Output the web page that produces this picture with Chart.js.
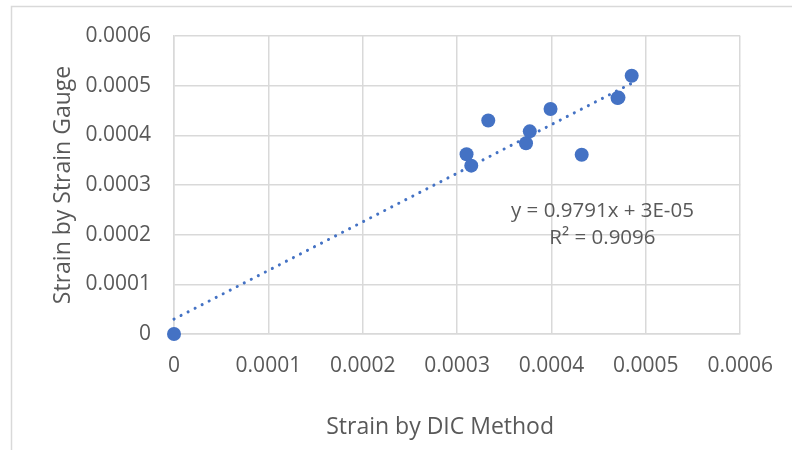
<!DOCTYPE html>
<html>
<head>
<meta charset="utf-8">
<script src="https://cdn.jsdelivr.net/npm/chart.js@4/dist/chart.umd.min.js"></script>
<style>
  html, body { margin: 0; padding: 0; background: #fff; }
  #wrap { width: 792px; height: 450px; }
</style>
</head>
<body>
<div id="wrap"><canvas id="strainChart" width="792" height="450"></canvas></div>
<script>
    'use strict'

    // strain pairs: DIC method (x) vs strain gauge (y)
    var dicStrain   = [0, 0.000310, 0.000315, 0.000333, 0.000373, 0.000377, 0.000399, 0.000432, 0.000470, 0.000471, 0.000485];
    var gaugeStrain = [0, 0.000362, 0.000339, 0.000430, 0.000384, 0.000408, 0.000453, 0.000361, 0.000475, 0.000476, 0.000520];

    // linear trendline
    var trendSlope = 0.9791;
    var trendIntercept = 0.00003;
    var trendLabel = ['y = 0.9791x + 3E-05', 'R\u00b2 = 0.9096'];

    var tickValues = [0, 0.0001, 0.0002, 0.0003, 0.0004, 0.0005, 0.0006];
    var xTitle = 'Strain by DIC Method';
    var yTitle = 'Strain by Strain Gauge';

    var blue = '#4472C4';
    var grey = '#595959';
    var gridGrey = '#D9D9D9';
    var fontFamily = '"Open Sans", "Liberation Sans", sans-serif';

    var points = dicStrain.map(function (x, i) { return { x: x, y: gaugeStrain[i] }; });
    var xMax = Math.max.apply(null, dicStrain);
    var trend = [
        { x: 0, y: trendIntercept },
        { x: xMax, y: trendSlope * xMax + trendIntercept }
    ];

    function fmt(v) {
        if (Math.abs(v) < 1e-12) return '0';
        return v.toFixed(4);
    }

    // outer chart frame
    var framePlugin = {
        id: 'frame',
        beforeDraw: function (chart) {
            var ctx = chart.ctx;
            ctx.save();
            ctx.strokeStyle = gridGrey;
            ctx.lineWidth = 1.5;
            ctx.strokeRect(11.5, 6.5, 1000, 1000);
            ctx.restore();
        }
    };

    // trendline equation + x axis title (centred on the whole chart body)
    var equationPlugin = {
        id: 'equation',
        afterDatasetsDraw: function (chart) {
            var ctx = chart.ctx;
            var xs = chart.scales.x, ys = chart.scales.y;
            var cx = xs.getPixelForValue(0.000454);
            var cy = ys.getPixelForValue(0.000248);
            ctx.save();
            ctx.fillStyle = grey;
            ctx.font = '20.5px ' + fontFamily;
            ctx.textAlign = 'center';
            ctx.textBaseline = 'middle';
            ctx.fillText(trendLabel[0], cx, cy);
            ctx.fillText(trendLabel[1], cx, cy + 27);

            ctx.font = '23px ' + fontFamily;
            ctx.fillText(xTitle, (xs.left + xs.right) / 2 - 17, xs.bottom - 23);
            ctx.restore();
        }
    };

    var ctx = document.getElementById('strainChart').getContext('2d');
    var chart = new Chart(ctx, {
        type: 'scatter',
        data: {
            datasets: [{
                label: 'Strain',
                data: points,
                backgroundColor: blue,
                borderColor: blue,
                borderWidth: 0,
                pointRadius: 7,
                pointHoverRadius: 7,
                clip: false,
                order: 2
            }, {
                label: 'Linear',
                type: 'line',
                data: trend,
                borderColor: blue,
                borderWidth: 3,
                borderDash: [0.1, 7.8],
                borderCapStyle: 'round',
                pointRadius: 0,
                fill: false,
                clip: false,
                order: 1
            }]
        },
        options: {
            responsive: false,
            animation: false,
            layout: { padding: { left: 0, top: 36, right: 51, bottom: 0 } },
            plugins: {
                legend: { display: false },
                tooltip: { enabled: false }
            },
            scales: {
                x: {
                    type: 'linear',
                    min: 0,
                    max: 0.0006,
                    afterBuildTicks: function (scale) {
                        scale.ticks = tickValues.map(function (v) { return { value: v }; });
                    },
                    afterFit: function (scale) { scale.height = 116; },
                    grid: { color: gridGrey, lineWidth: 1.5, drawTicks: false },
                    border: { color: gridGrey, width: 1.5 },
                    ticks: {
                        color: grey,
                        font: { family: fontFamily, size: 21 },
                        padding: 19,
                        maxRotation: 0,
                        callback: function (v) { return fmt(v); }
                    },
                    title: { display: false }
                },
                y: {
                    type: 'linear',
                    min: 0,
                    max: 0.0006,
                    afterBuildTicks: function (scale) {
                        scale.ticks = tickValues.map(function (v) { return { value: v }; });
                    },
                    afterFit: function (scale) { scale.width = 174; },
                    grid: { color: gridGrey, lineWidth: 1.5, drawTicks: false },
                    border: { color: gridGrey, width: 1.5 },
                    ticks: {
                        color: grey,
                        font: { family: fontFamily, size: 21 },
                        padding: 23,
                        callback: function (v) { return fmt(v); }
                    },
                    title: {
                        display: true,
                        text: yTitle,
                        color: grey,
                        font: { family: fontFamily, size: 23 },
                        padding: { top: 50, bottom: 0 }
                    }
                }
            }
        },
        plugins: [framePlugin, equationPlugin]
    });
</script>
</body>
</html>
